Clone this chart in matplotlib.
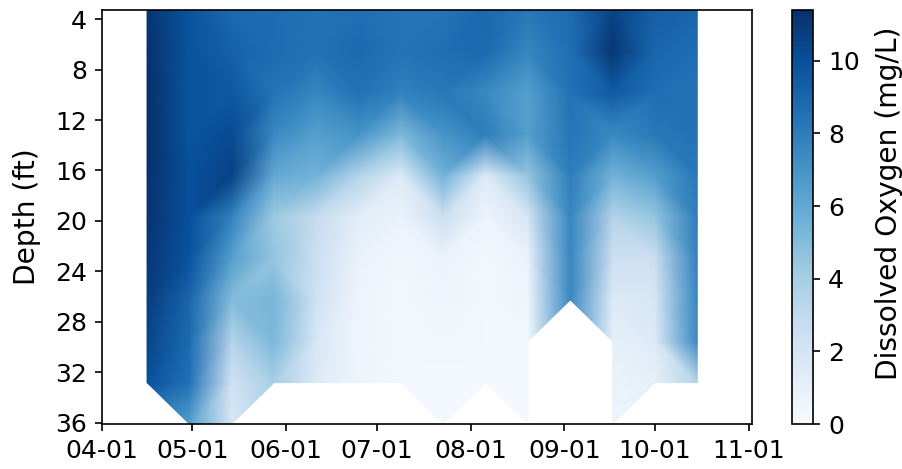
import numpy as np
import matplotlib
matplotlib.use("Agg")
import matplotlib.pyplot as plt
import matplotlib.dates as mdates
import matplotlib.tri as mtri

# Sampling dates (every two weeks)
dates = ["2023-04-16", "2023-04-30", "2023-05-14", "2023-05-28", "2023-06-11",
         "2023-06-25", "2023-07-09", "2023-07-23", "2023-08-06", "2023-08-20",
         "2023-09-03", "2023-09-17", "2023-10-01", "2023-10-15"]

# Sampling depths in metres (plotted in feet)
depth_m = [1, 2, 3, 4, 5, 6, 7, 8, 9, 10, 11]

nan = np.nan
# Dissolved oxygen (mg/L), one list per date, depths 1..11 m
do_c00 = [11.2, 11.3, 11.4, 11.4, 11.3, 11.2, 11.0, 10.8, 10.5, 10.0, nan]
do_c01 = [9.8, 9.8, 9.8, 9.8, 10.0, 10.0, 9.8, 9.0, 8.8, 8.5, 6.5]
do_c02 = [8.8, 9.2, 9.6, 10.2, 10.6, 7.8, 6.5, 5.0, 3.5, 2.2, 1.7]
do_c03 = [8.7, 8.7, 8.4, 7.5, 6.0, 4.3, 4.5, 5.3, 5.2, 4.0, nan]
do_c04 = [8.5, 8.5, 7.6, 6.5, 5.5, 2.8, 2.5, 2.2, 1.8, 1.6, nan]
do_c05 = [8.6, 8.8, 8.5, 7.0, 3.5, 1.2, 0.8, 0.6, 0.5, 0.5, nan]
do_c06 = [8.4, 8.4, 7.8, 5.2, 1.5, 0.8, 0.4, 0.3, 0.3, 0.3, nan]
do_c07 = [8.4, 8.6, 8.2, 7.0, 5.5, 2.5, 0.8, 0.5, 0.4, 0.3, 0.3]
do_c08 = [8.9, 8.8, 7.5, 8.0, 1.5, 0.6, 0.3, 0.3, 0.3, 0.3, nan]
do_c09 = [8.2, 7.6, 6.5, 6.5, 4.5, 2.0, 0.8, 0.5, 0.3, 0.3, 0.3]
do_c10 = [8.7, 8.6, 8.5, 8.3, 8.0, 7.6, 7.6, 7.6, nan, nan, nan]
do_c11 = [10.6, 11.0, 9.5, 7.5, 5.5, 3.5, 2.5, 1.5, 1.0, 0.7, 0.5]
do_c12 = [9.2, 9.0, 8.6, 8.2, 6.5, 4.5, 2.5, 1.8, 1.5, 1.0, nan]
do_c13 = [9.0, 8.6, 8.5, 8.5, 8.2, 8.0, 7.8, 7.6, 7.5, 3.5, nan]

do_cols = [do_c00, do_c01, do_c02, do_c03, do_c04, do_c05, do_c06,
           do_c07, do_c08, do_c09, do_c10, do_c11, do_c12, do_c13]

yticks_ft = [4, 8, 12, 16, 20, 24, 28, 32, 36]
cbar_ticks = [0, 2, 4, 6, 8, 10]

FT_PER_M = 3.28084

# ---- build grid & triangulation ----
xnum = mdates.datestr2num(dates)
yft = np.array(depth_m, dtype=float) * FT_PER_M
Z = np.array(do_cols, dtype=float)          # shape (ndates, ndepths)
nx, ny = Z.shape
X, Y = np.meshgrid(xnum, yft, indexing="ij")
valid = ~np.isnan(Z)

def idx(i, j):
    return i * ny + j

triangles = []
for i in range(nx - 1):
    for j in range(ny - 1):
        a, b, c, d = idx(i, j), idx(i, j + 1), idx(i + 1, j), idx(i + 1, j + 1)
        # a=left-top, b=left-bottom, c=right-top, d=right-bottom
        if not valid[i, j + 1] or not valid[i + 1, j]:
            use_ad = True
        elif not valid[i, j] or not valid[i + 1, j + 1]:
            use_ad = False
        else:
            # split along the diagonal whose end values are most alike
            use_ad = abs(Z[i, j] - Z[i + 1, j + 1]) <= abs(Z[i, j + 1] - Z[i + 1, j])
        if use_ad:
            triangles.append([a, b, d])
            triangles.append([a, d, c])
        else:
            triangles.append([a, b, c])
            triangles.append([b, d, c])
triangles = np.array(triangles)
zflat = Z.ravel()
mask = np.isnan(zflat[triangles]).any(axis=1)
tri = mtri.Triangulation(X.ravel(), Y.ravel(), triangles=triangles, mask=mask)
zplot = np.where(np.isnan(zflat), 0.0, zflat)

vmax = np.nanmax(Z)

# ---- figure ----
W, H, DPI = 903, 469, 150
fig = plt.figure(figsize=(W / DPI, H / DPI), dpi=DPI)
ax = fig.add_axes([101.7 / W, 1 - 424 / H, 650 / W, 414 / H])
cax = fig.add_axes([792.3 / W, 1 - 424 / H, 21 / W, 414 / H])

tp = ax.tripcolor(tri, zplot, shading="gouraud", cmap="Blues", vmin=0, vmax=vmax)

ax.set_xlim(mdates.datestr2num("2023-04-01"), mdates.datestr2num("2023-11-02"))
ax.set_ylim(yft.max(), yft.min())
ax.set_yticks(yticks_ft)
ax.xaxis.set_major_locator(mdates.MonthLocator())
ax.xaxis.set_major_formatter(mdates.DateFormatter("%m-%d"))
ax.set_ylabel("Depth (ft)", fontsize=13.5)
ax.yaxis.set_label_coords(-0.094, 0.5)
ax.tick_params(labelsize=12)

cb = fig.colorbar(tp, cax=cax)
cb.set_ticks(cbar_ticks)
cb.set_label("Dissolved Oxygen (mg/L)", fontsize=13.5)
cb.ax.yaxis.set_label_coords(3.92, 0.534)
cb.ax.tick_params(labelsize=12)

fig.savefig("out.png", dpi=DPI)
